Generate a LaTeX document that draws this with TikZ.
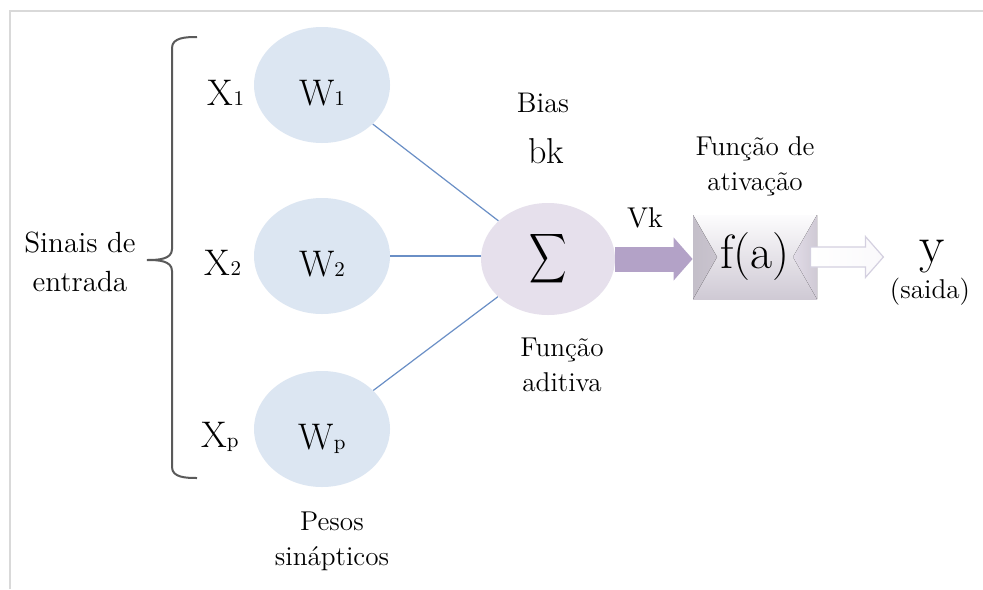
\documentclass[tikz,border=0pt]{standalone}
\usepackage{graphicx}
\usepackage{exscale}
\usepackage{tikz}
\usetikzlibrary{positioning,arrows.meta,shapes.geometric,calc}
\definecolor{weightblue}{HTML}{DCE6F2}
\definecolor{sumlilac}{HTML}{E6E0EC}
\definecolor{linkblue}{HTML}{6A8FC6}
\definecolor{vkpurple}{HTML}{B3A2C7}
\definecolor{framegray}{HTML}{D9D9D9}
\definecolor{bracegray}{HTML}{5A5A5A}
\definecolor{outedge}{HTML}{D4D0E0}
\newcommand{\subdig}[1]{{\fontsize{10.5}{10.5}\selectfont #1}}
\newcommand{\fs}[1]{\fontsize{#1}{#1}\selectfont}

\begin{document}
\begin{tikzpicture}[x=0.5pt,y=-0.5pt,
  weight/.style={ellipse, fill=weightblue, minimum width=68pt, minimum height=58pt,
                 inner sep=0pt, text height=20pt, text depth=0pt, font=\fs{18.5}},
  sumnode/.style={ellipse, fill=sumlilac, minimum width=67pt, minimum height=56pt,
                  inner sep=0pt, font=\fs{17}},
  inlbl/.style={anchor=base, inner sep=0pt, font=\fs{18.5}},
  txt/.style={align=center, inner sep=0pt, font=\fontsize{13.6}{17.5}\selectfont},
  link/.style={draw=linkblue, line width=0.6pt},
  brace/.style={draw=bracegray, line width=1pt},
  actbox/.style={minimum width=62pt, minimum height=42pt, inner sep=0pt,
                 top color=white!90!sumlilac, bottom color=black!10!sumlilac, font=\fs{24},
                 path picture={
                   \fill[left color=black!15!sumlilac, right color=black!3!sumlilac]
                     (path picture bounding box.north west) -- (path picture bounding box.south west)
                     -- ($(path picture bounding box.west)+(12pt,0pt)$) -- cycle;
                   \fill[left color=black!2!sumlilac, right color=black!10!sumlilac]
                     (path picture bounding box.north east) -- (path picture bounding box.south east)
                     -- ($(path picture bounding box.east)+(-12pt,0pt)$) -- cycle;
                 }},
  vkarrow/.style={draw=vkpurple, line width=12.5pt, -{Triangle[length=9.5pt,width=21pt]}},
  outarrow/.style={draw=outedge, line width=0.6pt, left color=white, right color=white!80!sumlilac}
]
\useasboundingbox (0,0) rectangle (983,589);
\fill[white] (0,0) rectangle (983,589);
\draw[framegray, line width=1pt] (10,589) -- (10,11) -- (983,11);

\node[weight] (w1) at (322,85) {W\subdig{1}};
\node[weight] (w2) at (322,256) {W\subdig{2}};
\node[weight] (wp) at (322,429) {W\subdig{p}};
\node[inlbl] (x1) at (226,105) {X\subdig{1}};
\node[inlbl] (x2) at (223,275) {X\subdig{2}};
\node[inlbl] (xp) at (220,447) {X\subdig{p}};
\node[txt, font=\fontsize{14.6}{19.5}\selectfont] (sinais) at (80,262) {Sinais de\\entrada};
\draw[brace] (197,37) to[out=180,in=90] (172,48) -- (172,249) to[out=-90,in=0] (147,260)
  to[out=0,in=90] (172,271) -- (172,467) to[out=-90,in=180] (197,478);

\node[sumnode] (sum) at (548,259) {\scalebox{0.75}[1]{$\displaystyle\sum$}};
\draw[link] (w1) -- (sum);
\draw[link] (w2) -- (w2 -| sum.west);
\draw[link] (wp) -- (sum);

\node[txt, anchor=base, font=\fs{14.2}] (bias) at (543,112) {Bias};
\node[anchor=base, inner sep=0pt, font=\fs{18}] (bk) at (546,163) {bk};
\node[txt, below=11pt of sum, xshift=7pt] (addfn) {Função\\aditiva};
\node[txt, below=12pt of wp, xshift=5pt] (pesos) {Pesos\\sinápticos};

\node[actbox] (fa) at (755,257) {f(a)};
\node[txt, above=9pt of fa] (actfn) {Função de\\ativação};
\draw[vkarrow] (sum.east) -- (sum.east -| fa.west);
\node[anchor=base, inner sep=0pt, font=\fs{14.3}] (vk) at (645,227) {Vk};
\draw[outarrow] ($(fa.east)+(-7,-10)$) -- ++(55,0) -- ++(0,-10.5) -- ++(18,20.5)
  -- ++(-18,20.5) -- ++(0,-10.5) -- ++(-55,0) -- cycle;
\node[anchor=base, inner sep=0pt, font=\fs{26}] (yout) at (932,262) {y};
\node[anchor=base, inner sep=0pt, font=\fs{13.6}] (saida) at (930,298) {(saida)};
\end{tikzpicture}
\end{document}
